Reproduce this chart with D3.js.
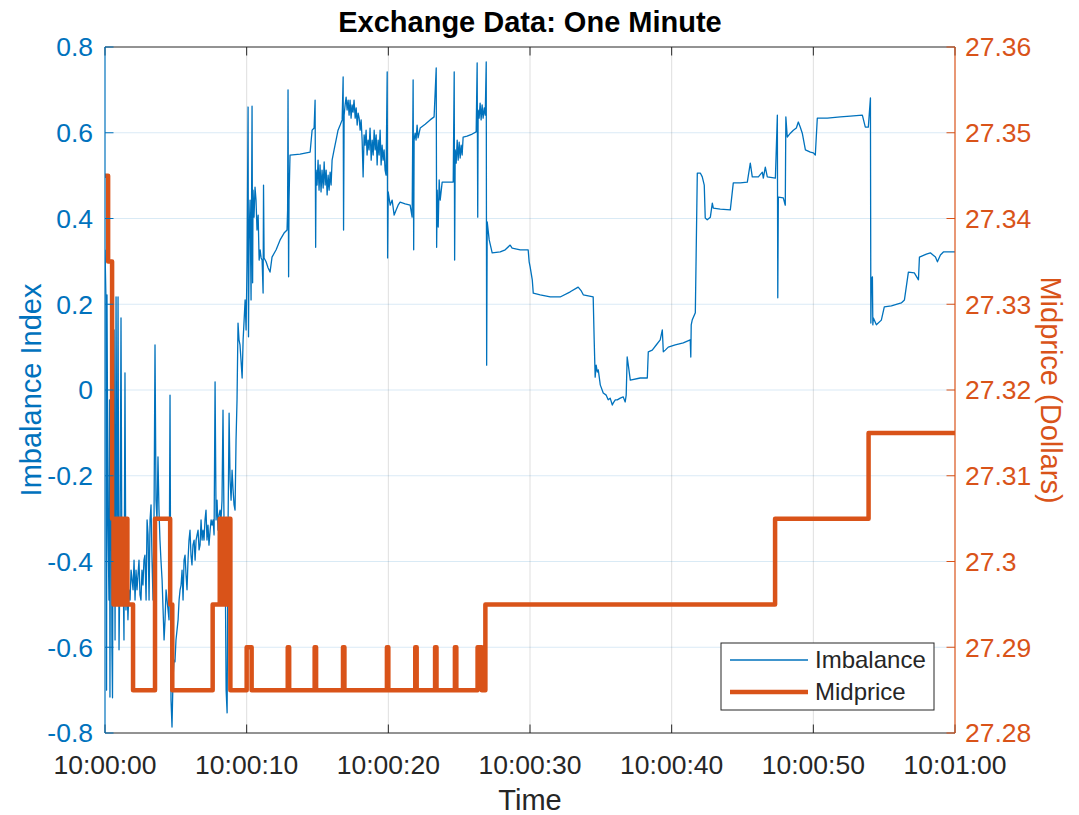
<!DOCTYPE html>
<html><head><meta charset="utf-8">
<script src="https://cdn.jsdelivr.net/npm/d3@7"></script>
<style>html,body{margin:0;padding:0;background:#fff;}svg{display:block;font-family:"Liberation Sans",Arial,sans-serif;}</style>
</head><body>
<svg id="chart" width="1079" height="815"></svg>
<script>
// ---- data ----
const titleText = "Exchange Data: One Minute";
const xTickValues = [0, 10, 20, 30, 40, 50, 60];
const xTickLabels = ["10:00:00", "10:00:10", "10:00:20", "10:00:30", "10:00:40", "10:00:50", "10:01:00"];
const leftTicks = [-0.8, -0.6, -0.4, -0.2, 0, 0.2, 0.4, 0.6, 0.8];
const leftTickLabels = ["-0.8", "-0.6", "-0.4", "-0.2", "0", "0.2", "0.4", "0.6", "0.8"];
const rightTicks = [27.28, 27.29, 27.30, 27.31, 27.32, 27.33, 27.34, 27.35, 27.36];
const rightTickLabels = ["27.28", "27.29", "27.3", "27.31", "27.32", "27.33", "27.34", "27.35", "27.36"];
const seriesNames = ["Imbalance", "Midprice"];

// Imbalance: time (s after 10:00:00), value
const imbTime = [0,0.07,0.11,0.14,0.21,0.28,0.32,0.35,0.42,0.49,0.53,0.56,0.64,0.71,0.78,0.85,0.92,0.99,1.06,1.13,1.20,1.27,1.34,1.41,1.48,1.55,1.62,1.69,1.77,1.84,1.91,1.98,2.05,2.12,2.19,2.26,2.33,2.40,2.47,2.54,2.61,2.68,2.75,2.82,2.90,2.97,3.04,3.11,3.18,3.25,3.32,3.39,3.46,3.53,3.60,3.67,3.74,3.81,3.88,3.95,4.03,4.10,4.17,4.24,4.31,4.38,4.45,4.52,4.59,4.66,4.73,4.80,4.87,4.94,5.01,5.16,5.23,5.30,5.37,5.44,5.51,5.58,5.65,5.72,5.79,5.86,5.93,6.00,6.07,6.14,6.21,6.29,6.36,6.43,6.50,6.57,6.64,6.71,6.78,6.85,6.92,6.99,7.06,7.13,7.20,7.27,7.34,7.42,7.49,7.56,7.63,7.70,7.77,7.84,7.91,7.98,8.05,8.12,8.19,8.26,8.33,8.40,8.47,8.55,8.62,8.69,8.76,8.83,8.90,8.97,9.04,9.11,9.18,9.25,9.32,9.39,9.46,9.53,9.60,9.68,9.75,9.82,9.89,9.96,10.03,
10.10,10.13,10.17,10.24,10.31,10.38,10.42,10.45,10.52,10.59,10.66,10.73,10.81,10.88,10.95,11.02,11.09,11.16,11.19,11.23,11.37,11.51,11.65,11.79,12.08,12.36,12.64,12.85,12.89,12.92,12.96,12.99,13.06,
13.77,14.48,14.62,14.76,14.83,14.87,14.90,14.97,15.04,15.11,15.18,15.25,15.32,15.40,15.47,15.54,15.61,15.68,15.75,15.82,15.89,15.96,16.03,16.17,16.31,16.45,16.60,16.74,16.81,16.84,16.88,
16.95,17.02,17.09,17.16,17.23,17.30,17.37,17.44,17.51,17.58,17.66,17.73,17.80,17.87,17.94,18.01,18.08,18.15,18.22,18.29,18.36,18.43,18.50,18.57,18.64,18.71,18.79,18.86,18.93,19.00,19.07,19.14,19.21,19.28,19.35,19.42,19.49,19.56,19.63,19.70,19.77,19.84,19.92,19.95,19.99,
20.13,20.27,20.41,20.55,20.69,20.83,21.19,21.54,21.68,21.75,21.79,21.82,21.89,21.96,22.03,22.10,22.25,22.60,22.95,23.23,23.38,23.41,23.45,
23.52,23.59,23.66,23.80,24.36,24.58,24.65,24.68,24.72,24.79,24.86,24.93,25.00,25.07,25.14,25.21,25.28,25.56,25.92,26.20,26.27,26.31,26.34,26.41,26.48,26.55,26.62,26.69,26.77,26.84,26.91,26.94,26.98,
27.12,27.33,27.90,28.25,28.60,28.74,29.31,29.87,29.94,30.01,30.16,30.23,30.72,31.43,32.13,32.84,33.40,33.62,33.76,34.46,34.53,34.60,34.67,34.75,34.82,34.96,35.17,35.38,35.52,35.66,35.81,35.88,36.02,36.16,36.37,36.58,36.72,36.79,36.86,36.94,37.08,37.78,38.28,38.35,38.63,38.91,39.19,39.34,39.41,39.55,39.76,40.25,40.82,41.31,41.35,41.38,41.45,41.67,41.81,42.02,42.16,42.30,42.37,42.51,42.73,42.87,42.94,43.43,44.14,44.35,44.84,45.34,45.55,45.69,46.12,46.40,46.47,46.61,46.75,47.32,47.46,47.49,47.53,47.88,48.02,48.06,48.16,48.38,48.59,48.80,48.94,49.08,49.22,49.44,49.79,50.00,50.14,50.28,50.99,51.91,52.61,53.46,53.67,53.88,54.03,54.06,54.10,54.17,54.20,54.24,54.45,54.80,55.01,55.51,56.21,56.43,56.71,57.13,57.42,57.49,57.98,58.26,58.62,58.76,58.97,59.18,59.67,60.00];
const imbValue = [0.327,0.210,-0.700,0.222,-0.303,-0.490,-0.023,-0.716,0.210,-0.606,-0.718,-0.397,0.140,-0.583,0.217,-0.490,0.217,-0.606,-0.397,0.168,-0.490,-0.397,-0.583,0.040,-0.513,-0.443,-0.536,-0.466,-0.490,-0.420,-0.443,-0.466,-0.397,-0.490,-0.420,-0.466,-0.431,-0.397,-0.478,-0.490,-0.420,-0.455,-0.397,-0.385,-0.490,-0.303,-0.338,-0.490,-0.303,-0.268,-0.397,-0.490,-0.303,0.105,-0.257,-0.303,-0.156,-0.280,-0.350,-0.397,-0.443,-0.513,-0.583,-0.536,-0.466,-0.490,-0.513,-0.536,-0.012,-0.723,-0.786,-0.676,-0.630,-0.634,-0.583,-0.536,-0.490,-0.466,-0.455,-0.420,-0.490,-0.397,-0.385,-0.431,-0.466,-0.397,-0.350,-0.327,-0.385,-0.408,-0.362,-0.350,-0.397,-0.350,-0.338,-0.327,-0.373,-0.362,-0.303,-0.350,-0.327,-0.350,-0.303,-0.280,-0.350,-0.315,-0.362,-0.327,-0.303,-0.315,-0.303,-0.338,0.019,-0.303,-0.257,-0.327,-0.292,-0.280,-0.303,-0.257,-0.047,-0.303,-0.327,-0.700,-0.753,-0.303,-0.054,-0.210,-0.257,-0.187,-0.233,-0.268,-0.280,-0.117,-0.023,0.156,0.117,0.105,0.070,0.028,0.117,0.163,0.210,0.140,0.303,
0.660,0.124,0.350,0.443,0.210,0.662,0.250,0.466,0.403,0.473,0.443,0.373,0.408,0.303,0.327,0.308,0.303,0.226,0.478,0.308,0.299,0.285,0.275,0.310,0.327,0.350,0.366,0.373,0.420,0.700,0.264,0.443,0.548,
0.550,0.555,0.606,0.611,0.676,0.333,0.513,0.478,0.536,0.466,0.525,0.462,0.513,0.471,0.532,0.478,0.513,0.455,0.501,0.466,0.508,0.478,0.536,0.560,0.583,0.606,0.618,0.630,0.730,0.373,0.641,
0.665,0.683,0.653,0.676,0.641,0.676,0.634,0.665,0.648,0.676,0.634,0.658,0.618,0.646,0.634,0.606,0.630,0.583,0.497,0.595,0.571,0.606,0.548,0.583,0.560,0.611,0.536,0.583,0.548,0.606,0.560,0.595,0.525,0.583,0.548,0.606,0.525,0.571,0.536,0.560,0.513,0.501,0.742,0.308,0.462,
0.431,0.443,0.408,0.420,0.431,0.438,0.434,0.431,0.403,0.723,0.327,0.583,0.599,0.583,0.618,0.588,0.611,0.620,0.630,0.637,0.751,0.333,0.466,
0.380,0.490,0.443,0.485,0.485,0.485,0.742,0.303,0.560,0.529,0.583,0.536,0.578,0.541,0.571,0.548,0.590,0.592,0.597,0.602,0.763,0.403,0.653,0.634,0.669,0.630,0.665,0.634,0.658,0.641,0.765,0.058,0.392,
0.350,0.320,0.322,0.327,0.338,0.331,0.327,0.327,0.299,0.287,0.257,0.226,0.222,0.217,0.217,0.229,0.240,0.231,0.222,0.217,0.117,0.030,0.058,0.042,0.047,0.012,-0.007,-0.012,-0.023,-0.019,-0.035,-0.030,-0.023,-0.023,-0.019,-0.016,-0.028,-0.012,0.077,0.058,0.023,0.028,0.028,0.089,0.093,0.105,0.117,0.140,0.089,0.093,0.100,0.105,0.110,0.117,0.077,0.152,0.163,0.180,0.506,0.506,0.497,0.478,0.401,0.397,0.403,0.436,0.424,0.422,0.420,0.483,0.483,0.485,0.529,0.497,0.497,0.508,0.494,0.520,0.497,0.494,0.641,0.215,0.450,0.448,0.431,0.637,0.590,0.599,0.606,0.611,0.625,0.613,0.599,0.560,0.555,0.553,0.548,0.634,0.634,0.637,0.639,0.641,0.613,0.613,0.681,0.156,0.257,0.264,0.152,0.168,0.152,0.163,0.194,0.196,0.203,0.210,0.275,0.273,0.257,0.310,0.317,0.320,0.310,0.299,0.315,0.322,0.322,0.322];

// Midprice: step changes (time of change, new price)
const midTime = [0,0.22,0.50,0.60,0.70,0.78,0.86,0.94,1.02,1.10,1.18,1.26,1.34,1.42,1.50,1.58,1.98,3.53,4.60,4.75,7.60,8.10,8.20,8.30,8.40,8.50,8.60,8.70,8.85,10.00,10.35,12.90,13.00,14.80,14.90,16.80,16.90,19.90,20.00,21.90,22.00,23.30,23.40,24.70,24.80,26.30,26.60,26.85,47.30,53.90,60.00];
const midPrice = [27.345,27.335,27.305,27.295,27.305,27.295,27.305,27.295,27.305,27.295,27.305,27.295,27.305,27.295,27.305,27.295,27.285,27.305,27.295,27.285,27.295,27.305,27.295,27.305,27.295,27.305,27.295,27.305,27.285,27.29,27.285,27.29,27.285,27.29,27.285,27.29,27.285,27.29,27.285,27.29,27.285,27.29,27.285,27.29,27.285,27.29,27.285,27.295,27.305,27.315,27.315];

// ---- drawing ----
const m = {left: 105, right: 955, top: 47, bottom: 733};
const blue = "#0072BD", orange = "#D95319", dark = "#262626";
const svg = d3.select("#chart");

const x = d3.scaleLinear().domain([0, 60]).range([m.left, m.right]);
const yL = d3.scaleLinear().domain([-0.8, 0.8]).range([m.bottom, m.top]);
const yR = d3.scaleLinear().domain([27.28, 27.36]).range([m.bottom, m.top]);

svg.append("rect").attr("x", m.left).attr("y", m.top).attr("width", m.right - m.left).attr("height", m.bottom - m.top).attr("fill", "#fff");

// grid
const grid = svg.append("g");
grid.selectAll("line.v").data(xTickValues.slice(1, -1)).join("line")
  .attr("x1", d => x(d)).attr("x2", d => x(d)).attr("y1", m.top).attr("y2", m.bottom)
  .attr("stroke", dark).attr("stroke-opacity", 0.15).attr("stroke-width", 1);
grid.selectAll("line.h").data(leftTicks.slice(1, -1)).join("line")
  .attr("y1", d => yL(d)).attr("y2", d => yL(d)).attr("x1", m.left).attr("x2", m.right)
  .attr("stroke", blue).attr("stroke-opacity", 0.15).attr("stroke-width", 1);

svg.append("clipPath").attr("id", "clip").append("rect")
  .attr("x", m.left).attr("y", m.top - 2).attr("width", m.right - m.left).attr("height", m.bottom - m.top + 4);

// imbalance line
const imbData = imbTime.map((t, i) => [t, imbValue[i]]);
svg.append("path").datum(imbData)
  .attr("clip-path", "url(#clip)")
  .attr("d", d3.line().x(d => x(d[0])).y(d => yL(d[1])))
  .attr("fill", "none").attr("stroke", blue).attr("stroke-width", 1.3).attr("stroke-linejoin", "round");

// midprice step line
const midData = midTime.map((t, i) => [t, midPrice[i]]);
svg.append("path").datum(midData)
  .attr("d", d3.line().curve(d3.curveStepAfter).x(d => x(d[0])).y(d => yR(d[1])))
  .attr("fill", "none").attr("stroke", orange).attr("stroke-width", 4.5).attr("stroke-linejoin", "round");

// axes
const tickLen = 8.5;
const fontTick = 26.5;
const axes = svg.append("g");
axes.append("line").attr("x1", m.left).attr("x2", m.right).attr("y1", m.bottom).attr("y2", m.bottom).attr("stroke", dark).attr("stroke-width", 1);
axes.append("line").attr("x1", m.left).attr("x2", m.right).attr("y1", m.top).attr("y2", m.top).attr("stroke", dark).attr("stroke-width", 1);
axes.selectAll("line.xb").data(xTickValues).join("line")
  .attr("x1", d => x(d)).attr("x2", d => x(d)).attr("y1", m.bottom).attr("y2", m.bottom - tickLen).attr("stroke", dark);
axes.selectAll("line.xt").data(xTickValues).join("line")
  .attr("x1", d => x(d)).attr("x2", d => x(d)).attr("y1", m.top).attr("y2", m.top + tickLen).attr("stroke", dark);
axes.selectAll("text.xl").data(xTickValues).join("text")
  .attr("x", d => x(d)).attr("y", m.bottom + 41).attr("text-anchor", "middle")
  .attr("font-size", fontTick).attr("fill", dark).text((d, i) => xTickLabels[i]);
axes.append("line").attr("x1", m.left).attr("x2", m.left).attr("y1", m.top).attr("y2", m.bottom).attr("stroke", blue).attr("stroke-width", 1.2);
axes.selectAll("line.yl").data(leftTicks).join("line")
  .attr("x1", m.left).attr("x2", m.left + tickLen).attr("y1", d => yL(d)).attr("y2", d => yL(d)).attr("stroke", blue);
axes.selectAll("text.yl").data(leftTicks).join("text")
  .attr("x", m.left - 12).attr("y", d => yL(d)).attr("dy", "0.35em").attr("text-anchor", "end")
  .attr("font-size", fontTick).attr("fill", blue).text((d, i) => leftTickLabels[i]);
axes.append("line").attr("x1", m.right).attr("x2", m.right).attr("y1", m.top).attr("y2", m.bottom).attr("stroke", orange).attr("stroke-width", 1.2);
axes.selectAll("line.yr").data(rightTicks).join("line")
  .attr("x1", m.right).attr("x2", m.right - tickLen).attr("y1", d => yR(d)).attr("y2", d => yR(d)).attr("stroke", orange);
axes.selectAll("text.yr").data(rightTicks).join("text")
  .attr("x", m.right + 10).attr("y", d => yR(d)).attr("dy", "0.35em").attr("text-anchor", "start")
  .attr("font-size", fontTick).attr("fill", orange).text((d, i) => rightTickLabels[i]);

// labels
svg.append("text").attr("x", (m.left + m.right) / 2).attr("y", 32).attr("text-anchor", "middle")
  .attr("font-size", 29).attr("font-weight", "bold").attr("fill", "#000").text(titleText);
svg.append("text").attr("x", (m.left + m.right) / 2).attr("y", 810).attr("text-anchor", "middle")
  .attr("font-size", 29).attr("fill", dark).text("Time");
svg.append("text").attr("transform", `translate(41,${(m.top + m.bottom) / 2}) rotate(-90)`)
  .attr("text-anchor", "middle").attr("font-size", 29).attr("fill", blue).text("Imbalance Index");
svg.append("text").attr("transform", `translate(1041,${(m.top + m.bottom) / 2}) rotate(90)`)
  .attr("text-anchor", "middle").attr("font-size", 29).attr("fill", orange).text("Midprice (Dollars)");

// legend
const lg = svg.append("g");
lg.append("rect").attr("x", 721).attr("y", 643).attr("width", 213).attr("height", 67)
  .attr("fill", "#fff").attr("stroke", dark).attr("stroke-width", 1);
const legColors = [blue, orange], legWidths = [1.3, 4.5];
seriesNames.forEach((n, i) => {
  const yy = 660 + i * 32;
  lg.append("line").attr("x1", 730).attr("x2", 808).attr("y1", yy).attr("y2", yy)
    .attr("stroke", legColors[i]).attr("stroke-width", legWidths[i]);
  lg.append("text").attr("x", 815).attr("y", yy).attr("dy", "0.35em").attr("font-size", 24)
    .attr("fill", dark).text(n);
});
</script>
</body></html>
